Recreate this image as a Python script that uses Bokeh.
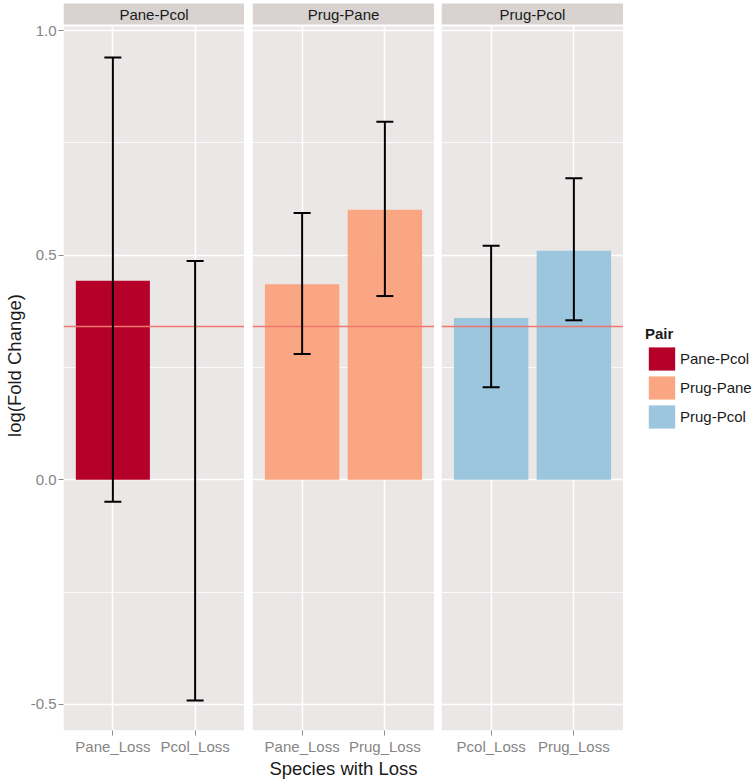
from bokeh.plotting import figure
from bokeh.models import (ColumnDataSource, FactorRange, Range1d, FixedTicker, Span,
                          Whisker, TeeHead, Legend, LegendItem, NumeralTickFormatter,
                          BoxAnnotation, Label)
from bokeh.layouts import row
from bokeh.embed import file_html
from bokeh.resources import INLINE

# ---- data ----
PAIRS = ["Pane-Pcol", "Prug-Pane", "Prug-Pcol"]
SPECIES = [["Pane_Loss", "Pcol_Loss"], ["Pane_Loss", "Prug_Loss"], ["Pcol_Loss", "Prug_Loss"]]
FOLD = [[0.443, 0.0], [0.435, 0.601], [0.360, 0.510]]
LOWER = [[-0.049, -0.491], [0.280, 0.409], [0.206, 0.355]]
UPPER = [[0.940, 0.487], [0.594, 0.797], [0.521, 0.671]]
REF_LINE = 0.341
Y_TICKS = [-0.5, 0.0, 0.5, 1.0]
Y_MINOR = [-0.25, 0.25, 0.75]

# ---- style ----
COLORS = ["#B5002A", "#FBA682", "#9CC6DD"]
PANEL_BG = "#EBE7E6"
STRIP_BG = "#D8D3D1"
FONT = "Liberation Sans"
TICK_COLOR = "#858585"

# pixel geometry (canvas top = page top, frame top = canvas top)
H = 781
FW = 182
LEFT = 62
GAPS = [0, 8, 7]
LW = 132
PX_PER_UNIT = 449.3
ZERO_PX = 479.3          # canvas y of value 0
AX_H = 51                # expected height of x-axis panel
FRAME_BOTTOM = H - AX_H
Y_TOP = ZERO_PX / PX_PER_UNIT
Y_START = -(FRAME_BOTTOM - ZERO_PX) / PX_PER_UNIT
STRIP_TOP = (ZERO_PX - 3) / PX_PER_UNIT
STRIP_BOTTOM = (ZERO_PX - 24) / PX_PER_UNIT
PANEL_TOP = (ZERO_PX - 26) / PX_PER_UNIT
STRIP_MID = (ZERO_PX - 13.5) / PX_PER_UNIT


def style_axis(ax, label):
    ax.axis_line_color = None
    ax.major_tick_line_color = "#8A8A8A"
    ax.major_tick_in = 0
    ax.major_tick_out = 5
    ax.minor_tick_line_color = None
    ax.major_label_text_font = FONT
    ax.major_label_text_font_size = "15px"
    ax.major_label_text_color = TICK_COLOR
    ax.major_label_standoff = 2
    ax.axis_label = label
    ax.axis_label_text_font = FONT
    ax.axis_label_text_font_size = "18.5px"
    ax.axis_label_text_font_style = "normal"
    ax.axis_label_text_color = "#1A1A1A"
    ax.axis_label_standoff = 0


panels = []
for i in range(3):
    left = LEFT if i == 0 else GAPS[i]
    w = left + FW
    p = figure(width=w, height=H, x_range=FactorRange(*SPECIES[i], range_padding=0.1),
               y_range=Range1d(Y_START, Y_TOP), output_backend="svg", toolbar_location=None,
               min_border_left=left, min_border_right=0, min_border_top=0, min_border_bottom=0,
               y_axis_location="left" if i == 0 else None,
               background_fill_color="white", border_fill_color="white",
               outline_line_color=None)
    # panel background and facet strip
    p.add_layout(BoxAnnotation(top=PANEL_TOP, fill_color=PANEL_BG, fill_alpha=1,
                               line_color=None, level="image"))
    p.add_layout(BoxAnnotation(bottom=STRIP_BOTTOM, top=STRIP_TOP, fill_color=STRIP_BG,
                               fill_alpha=1, line_color=None, level="annotation"))
    p.add_layout(Label(x=1.0, y=STRIP_MID, text=PAIRS[i], text_align="center",
                       text_baseline="middle", text_font=FONT, text_font_size="15px",
                       text_color="#1A1A1A", level="annotation"))

    src = ColumnDataSource(dict(x=SPECIES[i], top=FOLD[i], lower=LOWER[i], upper=UPPER[i]))
    p.vbar(x="x", top="top", bottom=0, width=0.9, source=src,
           fill_color=COLORS[i], line_color=None)
    p.xgrid.grid_line_color = "white"
    p.xgrid.grid_line_width = 1.5
    p.ygrid.ticker = FixedTicker(ticks=Y_TICKS, minor_ticks=Y_MINOR)
    p.ygrid.grid_line_color = "white"
    p.ygrid.grid_line_width = 1.5
    p.ygrid.minor_grid_line_color = "white"
    p.ygrid.minor_grid_line_width = 0.8
    style_axis(p.xaxis[0], "Species with Loss" if i == 1 else " ")
    if i == 0:
        ya = p.yaxis[0]
        ya.ticker = FixedTicker(ticks=Y_TICKS)
        ya.formatter = NumeralTickFormatter(format="0.0")
        style_axis(ya, "log(Fold Change)")
        ya.axis_label_standoff = 3
    p.add_layout(Span(location=REF_LINE, dimension="width", line_color="#F0776F",
                      line_width=1.5, level="annotation"))
    p.add_layout(Whisker(base="x", upper="upper", lower="lower", source=src,
                         line_color="black", line_width=2, level="annotation",
                         upper_head=TeeHead(size=17, line_width=2, line_color="black"),
                         lower_head=TeeHead(size=17, line_width=2, line_color="black")))
    panels.append(p)

# legend figure
lf = figure(width=LW, height=H, x_range=Range1d(0, 1), y_range=Range1d(0, 1),
            output_backend="svg", toolbar_location=None,
            min_border_left=0, min_border_right=0, min_border_top=0, min_border_bottom=0,
            x_axis_location=None, y_axis_location=None,
            background_fill_color="white", border_fill_color="white", outline_line_color=None)
lf.grid.visible = False
items = []
for k in range(3):
    r = lf.vbar(x=[0.5], top=[0.0], width=0.5, fill_color=COLORS[k], line_color=None,
                visible=False)
    items.append(LegendItem(label=PAIRS[k], renderers=[r]))
leg = Legend(items=items, title="Pair", location=(22, FRAME_BOTTOM - 431), margin=0, padding=0,
             border_line_color=None, background_fill_alpha=0,
             glyph_width=33, glyph_height=29, spacing=0, label_standoff=2,
             label_text_font=FONT, label_text_font_size="15px", label_text_color="#1A1A1A",
             title_text_font=FONT, title_text_font_size="15px", title_text_font_style="bold",
             title_text_color="#1A1A1A", title_standoff=2)
lf.add_layout(leg)

layout = row(*panels, lf)

open("out.html", "w").write(file_html(layout, INLINE))
